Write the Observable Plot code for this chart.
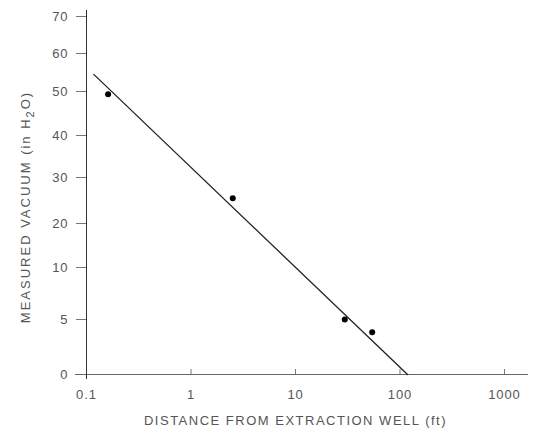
<!DOCTYPE html>
<html><head><meta charset="utf-8">
<script src="https://cdn.jsdelivr.net/npm/d3@7"></script>
<script src="https://cdn.jsdelivr.net/npm/@observablehq/plot@0.6"></script>
<style>body{margin:0;background:#fff} svg{display:block}</style>
</head><body><div id="chart"></div>
<script>
// Measured points
const distance = [0.161, 2.51, 29.6, 54.2];
const vacuum = [49.4, 25.5, 5.0, 3.85];
// Fitted line end points
const fitDistance = [0.1174, 118];
const fitVacuum = [54.5, 0];
// Axis ticks
const xTicks = [0.1, 1, 10, 100, 1000];
const xTickLabels = ["0.1", "1", "10", "100", "1000"];
const yTicks = [0, 5, 10, 20, 30, 40, 50, 60, 70];
const yTickLabels = ["0", "5", "10", "20", "30", "40", "50", "60", "70"];
const xTitle = "DISTANCE FROM EXTRACTION WELL (ft)";

const points = distance.map((d, i) => ({distance: d, vacuum: vacuum[i]}));
const fit = fitDistance.map((d, i) => ({distance: d, vacuum: fitVacuum[i]}));

// piecewise (non-uniform) vertical scale of the original figure
const yScaleRange = [374, 319, 267, 223, 177, 135, 91, 53, 16];

const plot = Plot.plot({
  width: 539, height: 434,
  marginLeft: 86, marginRight: 35, marginTop: 16, marginBottom: 60,
  style: {fontFamily: "'Liberation Sans', Arial, sans-serif", fontSize: "13px", color: "#555", background: "#fff"},
  x: {type: "log", domain: [0.1, 1000]},
  y: {type: "linear", domain: yTicks, range: yScaleRange},
  marks: [
    Plot.axisY(yTicks, {tickSize: 10, tickPadding: 8, stroke: "#777", fill: "#555",
      tickFormat: d => yTickLabels[yTicks.indexOf(d)], label: null}),
    Plot.axisX(xTicks, {tickSize: 0, tickPadding: 15, fill: "#555",
      tickFormat: d => xTickLabels[xTicks.indexOf(d)], label: null}),
    Plot.ruleX(xTicks.slice(1), {y1: 0, y2: 0, insetTop: -5, insetBottom: -1, stroke: "#777"}),
    Plot.ruleY([0], {insetLeft: -11, insetRight: -24, stroke: "#666"}),
    Plot.ruleX([0.1], {insetTop: -6, insetBottom: -5, stroke: "#333"}),
    Plot.line(fit, {x: "distance", y: "vacuum", stroke: "#222", strokeWidth: 1.3}),
    Plot.dot(points, {x: "distance", y: "vacuum", r: 3, fill: "#000", stroke: null}),
    Plot.text([xTitle], {frameAnchor: "bottom", dy: 50, fill: "#555", fontSize: 13})
  ]
});

const svg = d3.select(plot);
svg.selectAll("text").each(function() {
  const t = d3.select(this);
  t.attr("letter-spacing", t.text() === xTitle ? "1.5px" : "0.9px");
});
const yl = svg.append("text")
  .attr("transform", "translate(30,207) rotate(-90)")
  .attr("text-anchor", "middle")
  .attr("fill", "#555")
  .attr("font-size", 13)
  .attr("letter-spacing", "2px");
yl.append("tspan").text("MEASURED VACUUM (in H");
yl.append("tspan").attr("dy", 4).attr("font-size", 11).text("2");
yl.append("tspan").attr("dy", -4).text("O)");
document.getElementById("chart").append(plot);
</script>
</body></html>
